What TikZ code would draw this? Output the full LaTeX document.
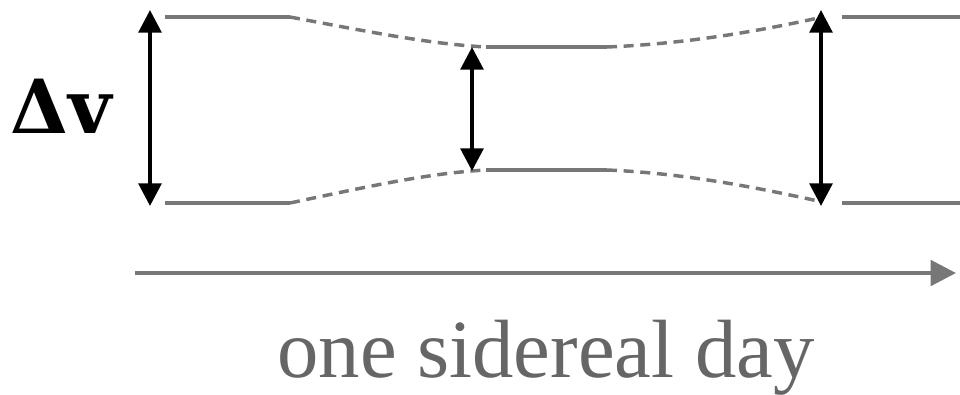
\documentclass[tikz,border=0pt]{standalone}
\usepackage{fontspec}
\setmainfont{Liberation Serif}
\newfontfamily\dvfont{DejaVu Serif}
\usetikzlibrary{arrows.meta}
\definecolor{lg}{HTML}{777777}
\definecolor{tg}{HTML}{666666}
\begin{document}
\begin{tikzpicture}[x=0.75pt,y=-0.75pt,
  level/.style={draw=lg, line width=2.6pt},
  trans/.style={draw=lg, line width=2.6pt, dash pattern=on 7.5pt off 5pt},
  dvarrow/.style={draw=black, line width=3pt,
    {Triangle[length=17pt,width=17pt]}-{Triangle[length=17pt,width=17pt]}},
  timearrow/.style={draw=lg, line width=3pt, -{Triangle[length=19pt,width=19pt]}}]
\useasboundingbox (0,0) rectangle (960,394);
% level coordinates
\coordinate (tl1) at (165,17);  \coordinate (tl2) at (290,17);
\coordinate (tm1) at (486,47);  \coordinate (tm2) at (607,47);
\coordinate (tr0) at (818,18);
\coordinate (tr1) at (842,17);  \coordinate (tr2) at (960,17);
\coordinate (bl1) at (165,203); \coordinate (bl2) at (290,203);
\coordinate (bm1) at (486,170); \coordinate (bm2) at (607,170);
\coordinate (br0) at (818,201);
\coordinate (br1) at (842,203); \coordinate (br2) at (960,203);
% solid levels
\draw[level] (tl1) -- (tl2);
\draw[level] (bl1) -- (bl2);
\draw[level] (tm1) -- (tm2);
\draw[level] (bm1) -- (bm2);
\draw[level] (tr1) -- (tr2);
\draw[level] (br1) -- (br2);
% dashed transitions
\draw[trans] (tl2) .. controls (370,32) and (430,44) .. (tm1);
\draw[trans] (bl2) .. controls (370,186) and (430,173) .. (bm1);
\draw[trans] (tm2) .. controls (680,44) and (750,33) .. (tr0);
\draw[trans] (bm2) .. controls (680,173) and (750,186) .. (br0);
% delta-v arrows
\coordinate (a1t) at (150,10);  \coordinate (a1b) at (150,206);
\coordinate (a2t) at (472,47);  \coordinate (a2b) at (472,171);
\coordinate (a3t) at (821,10);  \coordinate (a3b) at (821,206);
\draw[dvarrow] (a1t) -- (a1b);
\draw[dvarrow] (a2t) -- (a2b);
\draw[dvarrow] (a3t) -- (a3b);
% label
\node[font=\dvfont\bfseries\fontsize{56}{64}\selectfont, anchor=base, inner sep=0pt] (dv) at (61,133) {Δv};
% time arrow
\coordinate (ts) at (135,273); \coordinate (te) at (956,273);
\draw[timearrow] (ts) -- (te);
\node[text=tg, font=\fontsize{62}{70}\selectfont, anchor=base] (day) at (546,377) {one sidereal day};
\end{tikzpicture}
\end{document}
